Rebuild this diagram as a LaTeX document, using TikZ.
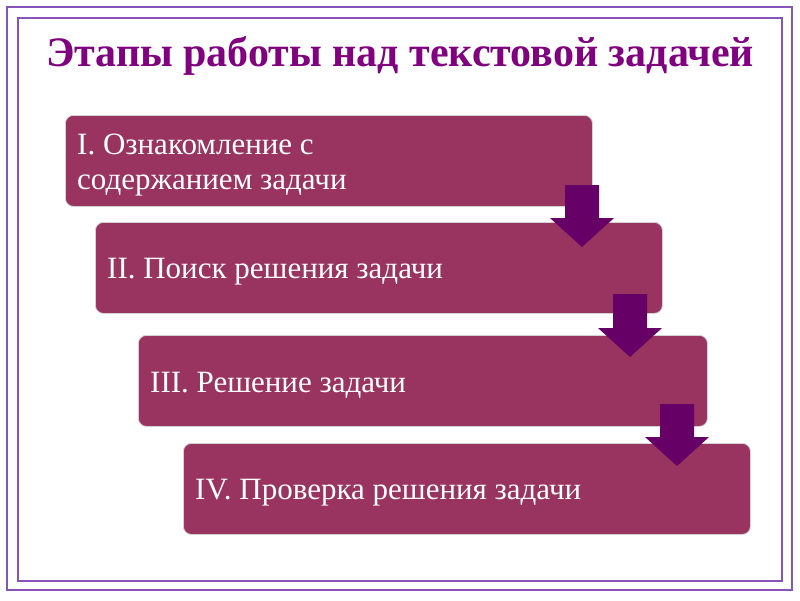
\documentclass[tikz,border=0pt]{standalone}
\usepackage{fontspec}
\setmainfont{Liberation Serif}
\definecolor{boxfill}{RGB}{153,51,96}
\definecolor{arrowc}{RGB}{102,0,102}
\definecolor{titlec}{RGB}{128,0,128}
\definecolor{framec}{RGB}{135,85,185}
\begin{document}
\begin{tikzpicture}[x=1pt,y=-1pt,
  stage/.style={draw=gray!35,line width=0.8pt,fill=boxfill,rounded corners=8pt,
    anchor=north west,minimum height=91pt,inner sep=0pt},
  stagetext/.style={anchor=west,text=white,align=left,inner sep=0pt,
    font=\fontsize{31}{35}\selectfont,xshift=12pt,yshift=-4pt},
  blockarrow/.style={fill=arrowc,draw=none},
  frameline/.style={draw=framec,line width=1.6pt}]
\useasboundingbox (0,0) rectangle (800,600);
\fill[white] (0,0) rectangle (800,600);
\draw[frameline] (7,7) rectangle (792,590);
\draw[frameline] (18,18) rectangle (782,581);
\node[font=\bfseries\fontsize{42}{45}\selectfont,text=titlec] (title) at (400,56) {Этапы работы над текстовой задачей};
\node[stage,minimum width=527pt] (b1) at (65,115) {};
\node[stage,minimum width=567pt] (b2) at (95,222) {};
\node[stage,minimum width=569pt] (b3) at (138,335) {};
\node[stage,minimum width=567pt] (b4) at (183,443) {};
\node[stagetext] (t1) at (b1.west) {I. Ознакомление с\\содержанием задачи};
\node[stagetext] (t2) at (b2.west) {II. Поиск решения задачи};
\node[stagetext] (t3) at (b3.west) {III. Решение задачи};
\node[stagetext] (t4) at (b4.west) {IV. Проверка решения задачи};
% block arrows
\fill[blockarrow] (565,185) -- (599,185) -- (599,218) -- (614,218) -- (582,247) -- (550,218) -- (565,218) -- cycle;
\fill[blockarrow] (613,294) -- (647,294) -- (647,328) -- (662,328) -- (630,357) -- (598,328) -- (613,328) -- cycle;
\fill[blockarrow] (660,404) -- (694,404) -- (694,437) -- (709,437) -- (677,466) -- (645,437) -- (660,437) -- cycle;
\end{tikzpicture}
\end{document}
